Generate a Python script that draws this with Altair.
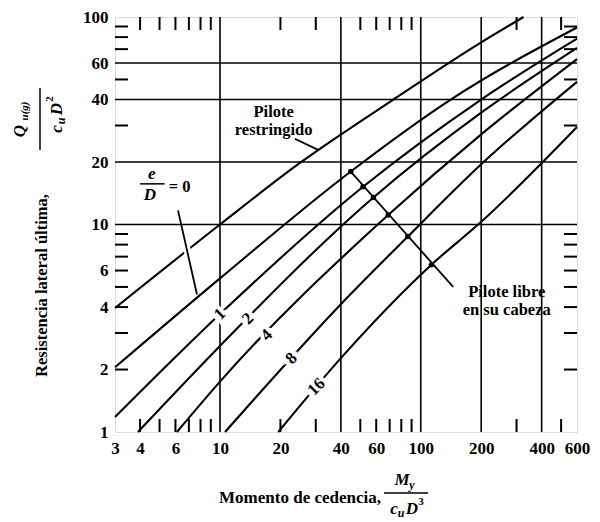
import altair as alt
import pandas as pd

FONT = "Liberation Serif, Times New Roman, serif"
W, H = 462, 415

# ---------------- curve data (x = My/(cu D^3), y = Qu(g)/(cu D^2)) ----------------
rest_x = [3, 10, 25, 73, 200, 325]
rest_y = [3.96, 10, 19.8, 40, 75.5, 100]
e0_x = [3, 10, 44.8, 141, 600]
e0_y = [2.05, 5.5, 18, 40, 89]
e1_x = [3, 10, 51.6, 200, 600]
e1_y = [1.18, 3.7, 15.2, 40, 78.6]
e2_x = [3.9, 10, 58.1, 200, 600]
e2_y = [1, 2.6, 13.5, 34.6, 70.9]
e4_x = [6.1, 10, 68.8, 200, 600]
e4_y = [1, 1.75, 11.1, 27.2, 62.7]
e8_x = [10.6, 40, 86.2, 200, 600]
e8_y = [1, 4.13, 8.75, 19.5, 48.7]
e16_x = [19.5, 40, 113, 200, 600]
e16_y = [1, 2.27, 6.4, 10.3, 29.5]

# curve labels (e/D values written on the curves)
lab_text = ["1", "2", "4", "8", "16"]
lab_x = [10, 13.8, 17.1, 22.7, 30.2]
lab_y = [3.7, 3.52, 2.93, 2.26, 1.65]

# axis ticks / grid
x_labels = [3, 4, 6, 10, 20, 40, 60, 100, 200, 400, 600]
y_labels = [1, 2, 4, 6, 10, 20, 40, 60, 100]
x_grid = [10, 40, 100, 200, 400]
y_grid = [10, 20, 40, 60]
x_minor = [4, 5, 6, 7, 8, 9, 20, 30, 50, 60, 70, 80, 90, 300, 500]
y_minor = [2, 3, 4, 5, 6, 7, 8, 9, 30, 50, 70, 80, 90]

# "Pilote libre" leader: intersection dots on each free-head curve
dot_x = [44.8, 51.6, 58.1, 68.8, 86.2, 113]
dot_y = [18, 15.2, 13.5, 11.1, 8.75, 6.4]

# leader lines: (x, y) -> (x2, y2)
lead_x = [44.8, 23.6, 6.18]
lead_y = [18, 25.9, 11.7]
lead_x2 = [145, 30.8, 7.68]
lead_y2 = [5.0, 22.9, 4.6]

# white gap where the e/D = 0 leader crosses the restrained-pile curve
gap_x, gap_y, gap_x2, gap_y2 = [6.5], [9.4], [7.2], [6.2]

# free annotations
ann_text = ["Pilote", "restringido", "Pilote libre", "en su cabeza", "= 0"]
ann_x = [18.5, 18.5, 268, 268, 6.3]
ann_y = [35, 28.6, 4.75, 3.88, 15.2]

# e/D fraction
frac_text = ["e", "D"]
frac_x = [4.57, 4.48]
frac_y = [17.5, 13.9]
fbar_x, fbar_x2, fbar_y = [4.0], [5.3], [15.7]

# ---------------- build tables ----------------
rows = []
for name, xs_, ys_ in [("restringido", rest_x, rest_y), ("0", e0_x, e0_y), ("1", e1_x, e1_y),
                       ("2", e2_x, e2_y), ("4", e4_x, e4_y), ("8", e8_x, e8_y), ("16", e16_x, e16_y)]:
    for i, (a, b) in enumerate(zip(xs_, ys_)):
        rows.append({"curve": name, "x": a, "y": b, "order": i})
lines_df = pd.DataFrame(rows)

xs = alt.Scale(type="log", domain=[3, 600], nice=False)
ys = alt.Scale(type="log", domain=[1, 100], nice=False)

x_axis = alt.Axis(values=x_labels, format="d", grid=False, ticks=False, domain=False,
                  labelFont=FONT, labelFontSize=17, labelFontWeight="bold", labelColor="black",
                  labelPadding=8, labelFlush=False, labelOverlap=False, title="")
y_axis = alt.Axis(values=y_labels, format="d", grid=False, ticks=False, domain=False,
                  labelFont=FONT, labelFontSize=17, labelFontWeight="bold", labelColor="black",
                  labelPadding=7, labelFlush=False, labelOverlap=False, title="")


def X(f="x"):
    return alt.X(f"{f}:Q", scale=xs, axis=x_axis)


def Y(f="y"):
    return alt.Y(f"{f}:Q", scale=ys, axis=y_axis)


curves = alt.Chart(lines_df).mark_line(color="black", strokeWidth=2.1, interpolate="monotone").encode(
    x=X(), y=Y(), detail="curve:N", order="order:Q",
)

xgrid = alt.Chart(pd.DataFrame({"x": x_grid})).mark_rule(color="black", strokeWidth=1.6).encode(x=X())
ygrid = alt.Chart(pd.DataFrame({"y": y_grid})).mark_rule(color="black", strokeWidth=1.6).encode(y=Y())

xm = pd.DataFrame({"x": x_minor})
ym = pd.DataFrame({"y": y_minor})
tick_style = dict(color="black", strokeWidth=2)
xt_top = alt.Chart(xm).mark_rule(**tick_style).encode(x=X(), y=alt.value(0), y2=alt.value(13))
xt_bot = alt.Chart(xm).mark_rule(**tick_style).encode(x=X(), y=alt.value(H - 13), y2=alt.value(H))
yt_left = alt.Chart(ym).mark_rule(**tick_style).encode(y=Y(), x=alt.value(0), x2=alt.value(13))
yt_right = alt.Chart(ym).mark_rule(**tick_style).encode(y=Y(), x=alt.value(W - 13), x2=alt.value(W))

lab_df = pd.DataFrame({"x": lab_x, "y": lab_y, "t": lab_text})
lab_halo = alt.Chart(lab_df).mark_text(font=FONT, fontSize=17, fontWeight="bold", angle=315,
                                       stroke="white", strokeWidth=8, fill="white").encode(
    x=X(), y=Y(), text="t:N")
lab_txt = alt.Chart(lab_df).mark_text(font=FONT, fontSize=17, fontWeight="bold", angle=315,
                                      color="black").encode(x=X(), y=Y(), text="t:N")

gap = alt.Chart(pd.DataFrame({"x": gap_x, "y": gap_y, "x2": gap_x2, "y2": gap_y2})).mark_rule(
    color="white", strokeWidth=7).encode(x=X(), y=Y(), x2="x2:Q", y2="y2:Q")

lead_df = pd.DataFrame({"x": lead_x, "y": lead_y, "x2": lead_x2, "y2": lead_y2})
leads = alt.Chart(lead_df).mark_rule(color="black", strokeWidth=1.8).encode(
    x=X(), y=Y(), x2="x2:Q", y2="y2:Q")

dots = alt.Chart(pd.DataFrame({"x": dot_x, "y": dot_y})).mark_circle(
    color="black", size=30, opacity=1).encode(x=X(), y=Y())

ann = alt.Chart(pd.DataFrame({"x": ann_x, "y": ann_y, "t": ann_text})).mark_text(
    font=FONT, fontSize=16.5, fontWeight="bold", color="black").encode(x=X(), y=Y(), text="t:N")

frac = alt.Chart(pd.DataFrame({"x": frac_x, "y": frac_y, "t": frac_text})).mark_text(
    font=FONT, fontSize=17, fontWeight="bold", fontStyle="italic", color="black").encode(
    x=X(), y=Y(), text="t:N")
fbar = alt.Chart(pd.DataFrame({"x": fbar_x, "x2": fbar_x2, "y": fbar_y})).mark_rule(
    color="black", strokeWidth=1.5).encode(x=X(), x2="x2:Q", y=Y())


# ---------------- axis titles (with fractions) ----------------
def txt(t, x, y, size=17, italic=False, angle=0, align="center"):
    kw = dict(font=FONT, fontSize=size, fontWeight="bold", color="black", align=align,
              baseline="middle", text=t)
    if italic:
        kw["fontStyle"] = "italic"
    if angle:
        kw["angle"] = angle
    return alt.Chart(pd.DataFrame({"d": [0]})).mark_text(**kw).encode(
        x=alt.value(x), y=alt.value(y))


def bar(x, y, x2, y2):
    return alt.Chart(pd.DataFrame({"d": [0]})).mark_rule(color="black", strokeWidth=1.5).encode(
        x=alt.value(x), y=alt.value(y), x2=alt.value(x2), y2=alt.value(y2))


titles = [
    # x title
    txt("Momento de cedencia,", 266, 481, align="right"),
    txt("M", 287, 463, italic=True),
    txt("y", 297, 468, size=12, italic=True),
    bar(269, 476, 313, 476),
    txt("c", 279, 492, italic=True),
    txt("u", 286, 496, size=12, italic=True),
    txt("D", 297, 492, italic=True),
    txt("3", 306, 485, size=11),
    # y title (rotated, reads bottom-to-top from its start)
    txt("Resistencia lateral última,", -73, 360, size=16.5, angle=270, align="left"),
    bar(-75, 71, -75, 133),
    txt("Q", -95, 114, italic=True, angle=270),
    txt("u(g)", -90, 94, size=11, italic=True, angle=270),
    txt("c", -58, 112, italic=True, angle=270),
    txt("u", -54, 104, size=12, italic=True, angle=270),
    txt("D", -58, 92, italic=True, angle=270),
    txt("2", -65, 82, size=11, angle=270),
]

chart = alt.layer(
    curves, xgrid, ygrid, xt_top, xt_bot, yt_left, yt_right,
    gap, leads, dots, lab_halo, lab_txt, ann, frac, fbar, *titles
).properties(
    width=W, height=H,
    autosize=alt.AutoSizeParams(type="none"),
    padding={"left": 107, "top": 9, "right": 15, "bottom": 90},
).configure_view(stroke="black", strokeWidth=2.5).configure(background="white")

chart.save("out.html", embed_options={"renderer": "svg", "actions": False})
